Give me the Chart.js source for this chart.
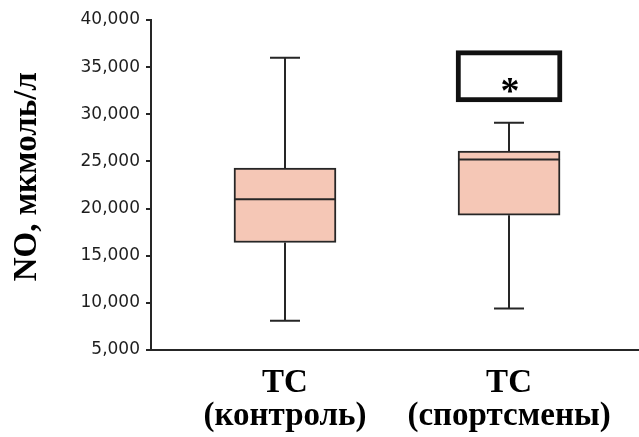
<!DOCTYPE html>
<html>
<head>
<meta charset="utf-8">
<script src="https://cdn.jsdelivr.net/npm/chart.js@4.4.1/dist/chart.umd.min.js"></script>
<style>
  html, body { margin: 0; padding: 0; background: #fff; }
  #wrap { width: 639px; height: 437px; }
</style>
</head>
<body>
<div id="wrap"><canvas id="box_chart"></canvas></div>
<script>
// group labels and box plot values (NO, мкмоль/л)
var groupLabels = [['ТС', '(контроль)'], ['ТС', '(спортсмены)']];
var groupPos = [1, 2];
var whiskerMin = [8100, 9400];
var quart1 = [16400, 19300];
var medians = [21000, 25200];
var quart3 = [24300, 26100];
var whiskerMax = [36000, 29100];
// significance marker box over the second group
var sigPos = 2;
var sigRange = [31300, 36750];
var sigText = '*';
var yTicks = [5000, 10000, 15000, 20000, 25000, 30000, 35000, 40000];

var lineColor = '#262626';

var boxData = [];
for (var i = 0; i < groupPos.length; i++) {
    boxData.push({ x: groupPos[i], y: [quart1[i], quart3[i]] });
}

var whiskerPlugin = {
    id: 'whiskers',
    beforeDatasetsDraw: function(chart){
        var ctx = chart.ctx, xs = chart.scales.x, ys = chart.scales.y;
        ctx.save();
        ctx.strokeStyle = lineColor;
        ctx.lineWidth = 2;
        for (var i = 0; i < groupPos.length; i++) {
            var cx = Math.round(xs.getPixelForValue(groupPos[i]));
            var capHalf = 15;
            ctx.beginPath();
            ctx.moveTo(cx, ys.getPixelForValue(quart3[i]));
            ctx.lineTo(cx, ys.getPixelForValue(whiskerMax[i]));
            ctx.moveTo(cx, ys.getPixelForValue(quart1[i]));
            ctx.lineTo(cx, ys.getPixelForValue(whiskerMin[i]));
            ctx.moveTo(cx - capHalf, ys.getPixelForValue(whiskerMax[i]));
            ctx.lineTo(cx + capHalf, ys.getPixelForValue(whiskerMax[i]));
            ctx.moveTo(cx - capHalf, ys.getPixelForValue(whiskerMin[i]));
            ctx.lineTo(cx + capHalf, ys.getPixelForValue(whiskerMin[i]));
            ctx.stroke();
        }
        ctx.restore();
    },
    afterDatasetsDraw: function(chart){
        var ctx = chart.ctx, xs = chart.scales.x, ys = chart.scales.y;
        var bars = chart.getDatasetMeta(0).data;
        ctx.save();
        ctx.strokeStyle = lineColor;
        ctx.lineWidth = 2;
        for (var i = 0; i < bars.length; i++) {
            var b = bars[i];
            var my = ys.getPixelForValue(medians[i]);
            ctx.beginPath();
            ctx.moveTo(b.x - b.width / 2, my);
            ctx.lineTo(b.x + b.width / 2, my);
            ctx.stroke();
        }
        // asterisk inside the significance box, sitting low like the original
        ctx.fillStyle = '#000';
        ctx.font = 'bold 38px "Liberation Serif"';
        ctx.textAlign = 'center';
        ctx.textBaseline = 'alphabetic';
        ctx.fillText(sigText, xs.getPixelForValue(sigPos) + 1, ys.getPixelForValue(sigRange[0]) + 1);
        ctx.restore();
    }
};

new Chart(document.getElementById('box_chart'), {
    type: 'bar',
    data: {
        datasets: [{
            data: boxData,
            backgroundColor: '#f5c7b6',
            borderColor: lineColor,
            borderWidth: 2,
            borderSkipped: false,
            barThickness: 102,
            grouped: false
        }, {
            data: [{ x: sigPos, y: sigRange }],
            backgroundColor: '#ffffff',
            borderColor: '#111',
            borderWidth: 5,
            borderSkipped: false,
            barThickness: 106,
            grouped: false
        }]
    },
    options: {
        responsive: true,
        maintainAspectRatio: false,
        animation: false,
        layout: { padding: { top: 20, right: 0, left: 0, bottom: 0 } },
        plugins: { legend: { display: false }, tooltip: { enabled: false } },
        scales: {
            x: {
                type: 'linear',
                min: 0.402,
                max: 2.58,
                offset: false,
                afterBuildTicks: function(scale){
                    scale.ticks = groupPos.map(function(v){ return { value: v }; });
                },
                afterFit: function(scale){ scale.height = 87; },
                grid: { display: false },
                border: { display: true, color: lineColor, width: 2 },
                ticks: {
                    color: '#000',
                    padding: 9,
                    maxRotation: 0,
                    autoSkip: false,
                    font: { family: '"Liberation Serif"', size: 33, weight: 'bold', lineHeight: 1.0 },
                    callback: function(v){ return groupLabels[groupPos.indexOf(v)]; }
                }
            },
            y: {
                min: 5000,
                max: 40000,
                afterBuildTicks: function(scale){
                    scale.ticks = yTicks.map(function(v){ return { value: v }; });
                },
                afterFit: function(scale){ scale.width = 151; },
                grid: { display: true, drawOnChartArea: false, drawTicks: true, tickLength: 5, color: lineColor, lineWidth: 2 },
                border: { display: true, color: lineColor, width: 2 },
                title: {
                    display: true,
                    text: '  NO, мкмоль/л',
                    color: '#000',
                    padding: { top: 8, bottom: 0 },
                    font: { family: '"Liberation Serif"', size: 33, weight: 'bold' }
                },
                ticks: {
                    color: '#1e1e1e',
                    padding: 6,
                    font: { family: '"DejaVu Sans"', size: 17 },
                    callback: function(v){ return v.toLocaleString('en-US'); }
                }
            }
        }
    },
    plugins: [whiskerPlugin]
});
</script>
</body>
</html>
